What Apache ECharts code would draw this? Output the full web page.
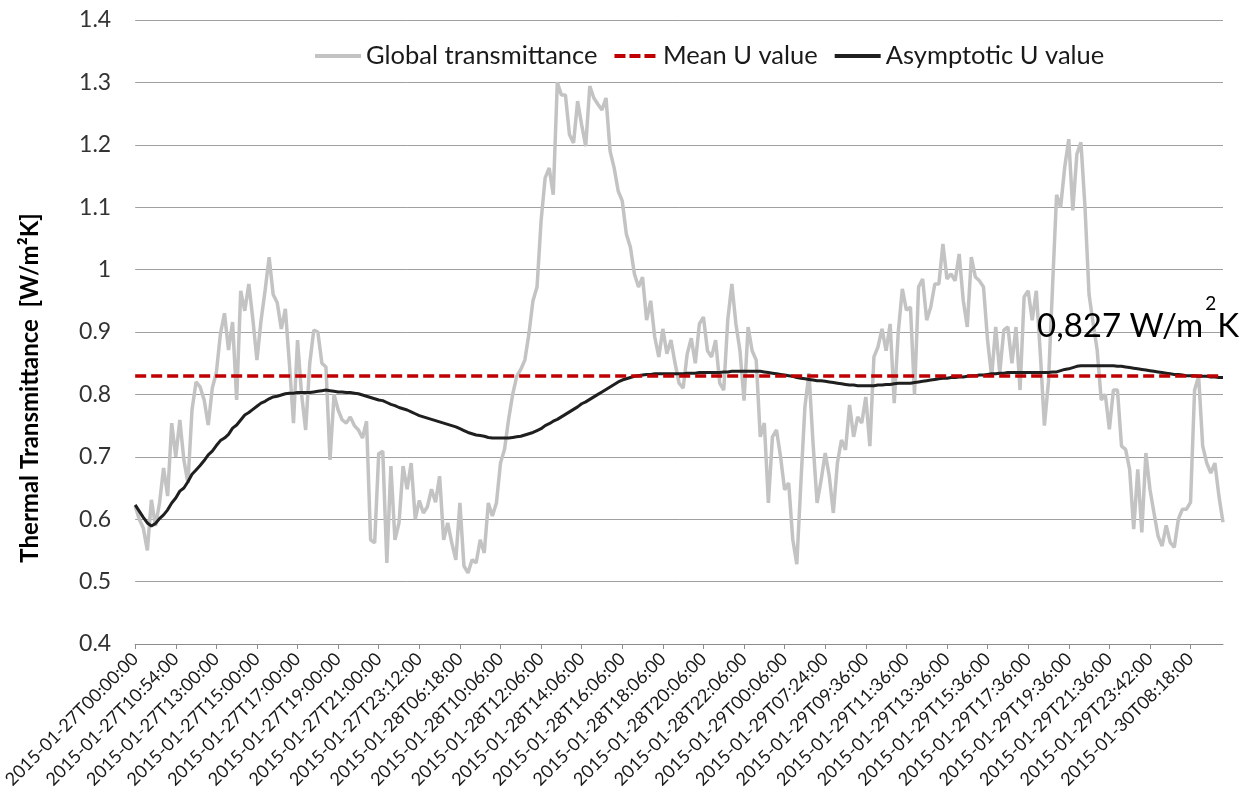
<!DOCTYPE html>
<html>
<head>
<meta charset="utf-8">
<script src="https://cdn.jsdelivr.net/npm/echarts@6/dist/echarts.min.js"></script>
<style>
html,body{margin:0;padding:0;background:#fff;}
#chart{width:1249px;height:803px;}
</style>
</head>
<body>
<div id="chart"></div>
<script>
// Tick labels shown every 10 samples on the category axis
const tickLabels = [
  "2015-01-27T00:00:00","2015-01-27T10:54:00","2015-01-27T13:00:00","2015-01-27T15:00:00",
  "2015-01-27T17:00:00","2015-01-27T19:00:00","2015-01-27T21:00:00","2015-01-27T23:12:00",
  "2015-01-28T06:18:00","2015-01-28T10:06:00","2015-01-28T12:06:00","2015-01-28T14:06:00",
  "2015-01-28T16:06:00","2015-01-28T18:06:00","2015-01-28T20:06:00","2015-01-28T22:06:00",
  "2015-01-29T00:06:00","2015-01-29T07:24:00","2015-01-29T09:36:00","2015-01-29T11:36:00",
  "2015-01-29T13:36:00","2015-01-29T15:36:00","2015-01-29T17:36:00","2015-01-29T19:36:00",
  "2015-01-29T21:36:00","2015-01-29T23:42:00","2015-01-30T08:18:00"
];
const SAMPLES_PER_LABEL = 10;

// Global transmittance
const globalTransmittance = [
  0.621,0.600,0.586,0.550,0.631,0.589,0.626,0.682,0.637,0.754,
  0.700,0.759,0.695,0.658,0.775,0.820,0.812,0.791,0.751,0.810,
  0.835,0.897,0.930,0.871,0.916,0.791,0.966,0.934,0.977,0.920,
  0.855,0.918,0.966,1.020,0.960,0.947,0.905,0.937,0.849,0.754,
  0.887,0.800,0.743,0.849,0.903,0.900,0.850,0.844,0.695,0.800,
  0.775,0.759,0.754,0.764,0.750,0.743,0.730,0.757,0.567,0.562,
  0.705,0.709,0.530,0.685,0.567,0.594,0.685,0.648,0.690,0.600,
  0.630,0.610,0.620,0.648,0.627,0.669,0.567,0.594,0.562,0.535,
  0.626,0.525,0.514,0.535,0.530,0.567,0.546,0.626,0.605,0.626,
  0.690,0.712,0.760,0.800,0.829,0.840,0.855,0.897,0.950,0.972,
  1.078,1.147,1.163,1.120,1.300,1.280,1.280,1.216,1.203,1.270,
  1.232,1.198,1.294,1.275,1.265,1.256,1.275,1.190,1.163,1.126,
  1.110,1.057,1.036,0.993,0.972,0.988,0.919,0.950,0.892,0.860,
  0.905,0.865,0.887,0.850,0.818,0.810,0.865,0.890,0.850,0.913,
  0.924,0.870,0.860,0.887,0.818,0.807,0.920,0.977,0.913,0.870,
  0.790,0.908,0.870,0.855,0.732,0.754,0.626,0.732,0.743,0.700,
  0.647,0.658,0.568,0.528,0.658,0.780,0.834,0.722,0.626,0.663,
  0.706,0.669,0.610,0.690,0.727,0.711,0.783,0.732,0.764,0.754,
  0.796,0.717,0.860,0.876,0.905,0.870,0.913,0.786,0.900,0.969,
  0.935,0.940,0.800,0.972,0.985,0.919,0.940,0.977,0.977,1.041,
  0.985,0.993,0.982,1.025,0.951,0.908,1.020,0.988,0.982,0.972,
  0.887,0.828,0.908,0.834,0.903,0.908,0.850,0.908,0.807,0.956,
  0.966,0.919,0.966,0.865,0.750,0.820,0.972,1.120,1.100,1.164,
  1.209,1.095,1.185,1.204,1.100,0.960,0.914,0.871,0.791,0.800,
  0.744,0.807,0.807,0.717,0.712,0.680,0.584,0.680,0.579,0.706,
  0.648,0.610,0.573,0.557,0.590,0.563,0.555,0.600,0.616,0.616,
  0.627,0.807,0.829,0.717,0.690,0.674,0.690,0.637,0.595
];

// Asymptotic U value
const asymptoticU = [
  0.623,0.613,0.603,0.594,0.589,0.593,0.601,0.607,0.615,0.626,
  0.634,0.645,0.650,0.660,0.672,0.679,0.686,0.694,0.703,0.709,
  0.718,0.726,0.730,0.736,0.746,0.751,0.759,0.767,0.771,0.776,
  0.781,0.786,0.789,0.793,0.796,0.797,0.799,0.801,0.802,0.802,
  0.803,0.803,0.803,0.803,0.804,0.805,0.806,0.807,0.806,0.805,
  0.804,0.804,0.803,0.803,0.802,0.801,0.799,0.797,0.795,0.793,
  0.791,0.790,0.787,0.784,0.782,0.779,0.777,0.775,0.772,0.769,
  0.766,0.764,0.762,0.760,0.758,0.756,0.754,0.752,0.750,0.748,
  0.745,0.742,0.739,0.737,0.735,0.734,0.733,0.731,0.730,0.730,
  0.730,0.730,0.730,0.731,0.732,0.733,0.735,0.737,0.739,0.742,
  0.745,0.750,0.753,0.757,0.760,0.764,0.768,0.772,0.776,0.780,
  0.785,0.788,0.792,0.796,0.800,0.804,0.808,0.812,0.816,0.820,
  0.823,0.825,0.827,0.829,0.830,0.831,0.832,0.832,0.833,0.833,
  0.833,0.833,0.833,0.833,0.833,0.833,0.834,0.834,0.834,0.835,
  0.835,0.835,0.835,0.835,0.835,0.836,0.836,0.837,0.837,0.837,
  0.837,0.837,0.837,0.837,0.837,0.836,0.835,0.834,0.833,0.832,
  0.831,0.830,0.829,0.827,0.826,0.825,0.824,0.823,0.822,0.822,
  0.821,0.820,0.819,0.818,0.817,0.816,0.815,0.815,0.814,0.814,
  0.814,0.814,0.814,0.815,0.815,0.816,0.816,0.817,0.818,0.818,
  0.818,0.818,0.819,0.820,0.821,0.822,0.823,0.824,0.825,0.826,
  0.826,0.827,0.827,0.828,0.828,0.829,0.830,0.830,0.831,0.831,
  0.832,0.833,0.833,0.834,0.834,0.835,0.835,0.835,0.835,0.835,
  0.835,0.835,0.835,0.835,0.835,0.835,0.836,0.836,0.838,0.840,
  0.841,0.843,0.845,0.846,0.846,0.846,0.846,0.846,0.846,0.846,
  0.846,0.846,0.845,0.845,0.844,0.843,0.842,0.841,0.840,0.839,
  0.838,0.837,0.836,0.835,0.834,0.833,0.832,0.832,0.831,0.830,
  0.830,0.830,0.829,0.829,0.829,0.828,0.828,0.827,0.827
];

const MEAN_U = 0.827;
const annotationMain = "0,827 W/m";
const annotationSup = "2";
const annotationTail = "K";
const yTitle = "Thermal Transmittance  [W/m²K]";

// category names: labelled sample every SAMPLES_PER_LABEL, unique names in between
const categories = globalTransmittance.map((_, i) => {
  const k = Math.floor(i / SAMPLES_PER_LABEL);
  return i % SAMPLES_PER_LABEL === 0 ? tickLabels[k] : tickLabels[k] + '+' + (i % SAMPLES_PER_LABEL);
});

const FONT = 'Lato';
const ANN_SIZE = 33;
const SUP_SIZE = 19;

// measure annotation pieces so the superscript sits right after "m"
const mctx = document.createElement('canvas').getContext('2d');
mctx.font = ANN_SIZE + 'px Lato';
const mainW = mctx.measureText(annotationMain).width;
mctx.font = SUP_SIZE + 'px Lato';
const supW = mctx.measureText(annotationSup).width;
const annX = 1037;

const lineIcon = 'path://M0,0H46V4H0Z';
const dashIcon = 'path://M0,0H11V4H0Z M15,0H26V4H15Z M30,0H41V4H30Z';

const chart = echarts.init(document.getElementById('chart'), null, {renderer: 'canvas'});
chart.setOption({
  animation: false,
  backgroundColor: '#ffffff',
  grid: {left: 134, right: 26, top: 20, bottom: 159, containLabel: false},
  legend: {
    left: 310, top: 38,
    itemWidth: 46, itemHeight: 4, itemGap: 17,
    textStyle: {fontFamily: FONT, fontSize: 25.5, color: '#1a1a1a'},
    data: [
      {name: 'Global transmittance', icon: lineIcon},
      {name: 'Mean U value', icon: dashIcon},
      {name: 'Asymptotic U value', icon: lineIcon}
    ]
  },
  xAxis: {
    type: 'category',
    data: categories,
    boundaryGap: false,
    axisLine: {lineStyle: {color: '#8c8c8c', width: 1}},
    axisTick: {show: true, interval: SAMPLES_PER_LABEL - 1, length: 5, lineStyle: {color: '#8c8c8c'}},
    axisLabel: {
      interval: SAMPLES_PER_LABEL - 1, rotate: 45, margin: 12,
      fontFamily: FONT, fontSize: 18, color: '#1a1a1a'
    },
    splitLine: {show: false}
  },
  yAxis: {
    type: 'value', min: 0.4, max: 1.4, interval: 0.1,
    axisLine: {show: false}, axisTick: {show: false},
    axisLabel: {
      margin: 24, fontFamily: FONT, fontSize: 23, color: '#333333',
      formatter: v => String(Math.round(v * 10) / 10)
    },
    splitLine: {lineStyle: {color: '#a0a0a0', width: 1}}
  },
  graphic: [
    {
      type: 'text', x: 30, y: 388, rotation: Math.PI / 2,
      style: {text: yTitle, fontFamily: FONT, fontWeight: 'bold', fontSize: 24, fill: '#000',
        textAlign: 'center', textVerticalAlign: 'middle'}
    },
    {
      type: 'text', x: annX, y: 326, z: 100,
      style: {text: annotationMain, fontFamily: FONT, fontSize: ANN_SIZE, fill: '#000',
        textAlign: 'left', textVerticalAlign: 'middle'}
    },
    {
      type: 'text', x: annX + mainW + 2, y: 304, z: 100,
      style: {text: annotationSup, fontFamily: FONT, fontSize: SUP_SIZE, fill: '#000',
        textAlign: 'left', textVerticalAlign: 'middle'}
    },
    {
      type: 'text', x: annX + mainW + supW + 3, y: 326, z: 100,
      style: {text: annotationTail, fontFamily: FONT, fontSize: ANN_SIZE, fill: '#000',
        textAlign: 'left', textVerticalAlign: 'middle'}
    }
  ],
  series: [
    {
      name: 'Global transmittance', type: 'line', data: globalTransmittance,
      symbol: 'none', lineStyle: {color: '#c3c3c3', width: 3.5}, itemStyle: {color: '#c3c3c3'}, z: 2
    },
    {
      name: 'Mean U value', type: 'line', data: [],
      symbol: 'none', lineStyle: {color: '#c00000', width: 3.5, type: [11, 5]}, itemStyle: {color: '#c00000'}, z: 3,
      markLine: {
        silent: true, symbol: 'none', label: {show: false},
        lineStyle: {color: '#c00000', width: 3.5, type: [11, 5]},
        data: [{yAxis: MEAN_U}]
      }
    },
    {
      name: 'Asymptotic U value', type: 'line', data: asymptoticU,
      symbol: 'none', lineStyle: {color: '#1f1f1f', width: 3}, itemStyle: {color: '#1f1f1f'}, z: 4
    }
  ]
});
</script>
</body>
</html>
